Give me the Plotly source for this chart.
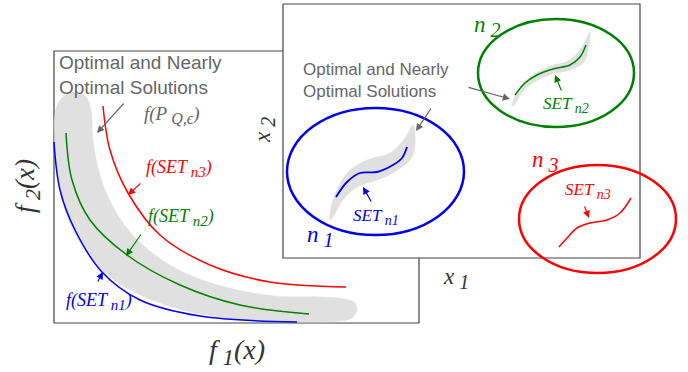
import plotly.graph_objects as go

# ---- left panel: objective space -------------------------------------------
left_box_x = [54, 419, 419, 54, 54]
left_box_y = [51, 51, 323, 323, 51]

band_obj_x = [60, 72, 86, 91, 93, 100, 112, 130, 155, 185, 225, 275, 320, 345,
              355, 357, 352, 340, 300, 250, 200, 160, 125, 100, 80, 66, 58, 55, 55, 60]
band_obj_y = [100, 92, 97, 110, 140, 175, 205, 232, 255, 273, 287, 296, 297, 299,
              303, 310, 318, 321, 322, 320, 314, 303, 287, 268, 243, 213, 180, 145, 115, 100]

front_n1_x = [54, 60, 75, 102, 140, 200, 297]
front_n1_y = [142, 190, 230, 272, 300, 316, 322]
front_n2_x = [66, 72, 90, 127, 180, 240, 309]
front_n2_y = [133, 180, 220, 255, 285, 305, 314]
front_n3_x = [103, 110, 128, 160, 210, 270, 346]
front_n3_y = [106, 150, 193, 235, 265, 282, 287]

# ---- right panel: decision space --------------------------------------------
right_box_x = [283, 640, 640, 283, 283]
right_box_y = [4, 4, 258, 258, 4]

band_n1_x = [330, 333, 347, 367, 390, 405, 413, 415, 412, 393, 377, 357, 343, 333, 330]
band_n1_y = [220, 200, 173, 160, 153, 138, 125, 133, 157, 173, 180, 187, 200, 217, 220]
set_n1_x = [336, 347, 360, 377, 393, 402, 407]
set_n1_y = [197, 182, 173, 172, 165, 158, 147]

band_n2_x = [512, 518, 530, 550, 568, 580, 590, 589, 584, 570, 553, 538, 524, 515, 512]
band_n2_y = [106, 90, 77, 66, 61, 50, 32, 45, 62, 70, 74, 80, 90, 104, 106]
set_n2_x = [515, 525, 537, 553, 570, 580, 586]
set_n2_y = [95, 83, 75, 69, 65, 57, 45]

set_n3_x = [559, 567, 577, 590, 607, 620, 631]
set_n3_y = [247, 238, 228, 223, 220, 213, 198]

# neighbourhood ellipses: centre x, centre y, radius x, radius y
nbhd_n1 = (375.5, 171.5, 88.5, 63.5)
nbhd_n2 = (556, 73, 78, 54)
nbhd_n3 = (597.5, 219, 78.5, 54)

BLUE, GREEN, RED = "#0000ee", "#008000", "#ff0000"
GREY_TXT, BAND = "#666666", "#e0e0e0"
FRAME = "#444444"

fig = go.Figure()


def path(xs, ys, color, width, shape="spline"):
    fig.add_trace(go.Scatter(x=xs, y=ys, mode="lines",
                             line=dict(color=color, width=width, shape=shape),
                             hoverinfo="skip", showlegend=False))


def blob(xs, ys, color):
    fig.add_trace(go.Scatter(x=xs, y=ys, mode="lines", fill="toself",
                             fillcolor=color, line=dict(color=color, width=0.5, shape="spline"),
                             hoverinfo="skip", showlegend=False))


# left panel
path(left_box_x, left_box_y, FRAME, 1.2, "linear")
blob(band_obj_x, band_obj_y, BAND)
path(front_n1_x, front_n1_y, BLUE, 1.5)
path(front_n2_x, front_n2_y, GREEN, 1.5)
path(front_n3_x, front_n3_y, RED, 1.5)

# right panel sits on top of the left one
fig.add_trace(go.Scatter(x=right_box_x, y=right_box_y, mode="lines", fill="toself",
                         fillcolor="white", line=dict(color=FRAME, width=1.2),
                         hoverinfo="skip", showlegend=False))
blob(band_n1_x, band_n1_y, BAND)
blob(band_n2_x, band_n2_y, BAND)
path(set_n1_x, set_n1_y, BLUE, 1.8)
path(set_n2_x, set_n2_y, GREEN, 1.5)
path(set_n3_x, set_n3_y, RED, 1.5)

for (cx, cy, rx, ry), col in ((nbhd_n1, BLUE), (nbhd_n2, GREEN), (nbhd_n3, RED)):
    fig.add_shape(type="circle", xref="x", yref="y",
                  x0=cx - rx, x1=cx + rx, y0=cy - ry, y1=cy + ry,
                  line=dict(color=col, width=2.5), layer="above")

SERIF = "Liberation Serif"
SANS = "Liberation Sans"


def sub(s, px):
    # larger, lower-set subscript than the plotly default
    return f"<sub><span style='font-size:{px}px'> {s}</span></sub>"


def label(x, y, text, color, size, family=SERIF, xanchor="left", angle=0, align="left"):
    fig.add_annotation(x=x, y=y, xref="x", yref="y", text=text, showarrow=False,
                       xanchor=xanchor, yanchor="middle", textangle=angle, align=align,
                       font=dict(family=family, size=size, color=color))


def arrow(x0, y0, x1, y1, color, width=1.2):
    fig.add_annotation(x=x1, y=y1, ax=x0, ay=y0, xref="x", yref="y", axref="x", ayref="y",
                       text="", showarrow=True, arrowhead=2, arrowsize=1.2,
                       arrowwidth=width, arrowcolor=color)


# gray notes
label(57, 75, "Optimal and Nearly<br>Optimal Solutions", GREY_TXT, 19, SANS)
label(301, 80, "Optimal and Nearly<br>Optimal Solutions", GREY_TXT, 17, SANS)
label(142, 115, "<i>f(P" + sub("Q,ϵ", 16) + ")</i>", GREY_TXT, 19)
arrow(125, 102, 97, 133, GREY_TXT)
arrow(432, 107, 416, 131, GREY_TXT)
arrow(467, 87, 510, 99, GREY_TXT)

# objective-space labels
label(144, 168, "<i>f(SET" + sub("n3", 15) + ")</i>", RED, 18)
arrow(142, 182, 128, 195, RED)
label(146, 217, "<i>f(SET" + sub("n2", 15) + ")</i>", GREEN, 18)
arrow(142, 233, 126, 256, GREEN)
label(64, 301, "<i>f(SET" + sub("n1", 15) + ")</i>", BLUE, 18)
arrow(97, 283, 103, 272, BLUE)

# decision-space labels
label(351, 217, "<i>SET" + sub("n1", 14) + "</i>", BLUE, 17)
arrow(372, 203, 363, 187, BLUE)
label(541, 105, "<i>SET" + sub("n2", 14) + "</i>", GREEN, 17)
arrow(562, 92, 555, 75, GREEN)
label(563, 191, "<i>SET" + sub("n3", 14) + "</i>", RED, 17)
arrow(584, 205, 589, 218, RED)

label(305, 236, "<i>n" + sub("1", 20) + "</i>", BLUE, 23)
label(472, 26, "<i>n" + sub("2", 20) + "</i>", GREEN, 23)
label(530, 161, "<i>n" + sub("3", 20) + "</i>", RED, 23)

# axis titles
label(237, 352, "<i>f" + sub("1", 23) + "(x)</i>", "#333333", 28, xanchor="center")
label(27, 186, "<i>f" + sub("2", 22) + "(x)</i>", "#333333", 27, xanchor="center", angle=-90)
label(456, 278, "<i>x" + sub("1", 20) + "</i>", "#333333", 23, xanchor="center")
label(264, 130, "<i>x" + sub("2", 20) + "</i>", "#333333", 23, xanchor="center", angle=-90)

fig.update_xaxes(range=[0, 688], visible=False, fixedrange=True)
fig.update_yaxes(range=[372, 0], visible=False, fixedrange=True)
fig.update_layout(width=688, height=372, margin=dict(l=0, r=0, t=0, b=0),
                  paper_bgcolor="white", plot_bgcolor="white", showlegend=False)

fig.write_html("out.html")
